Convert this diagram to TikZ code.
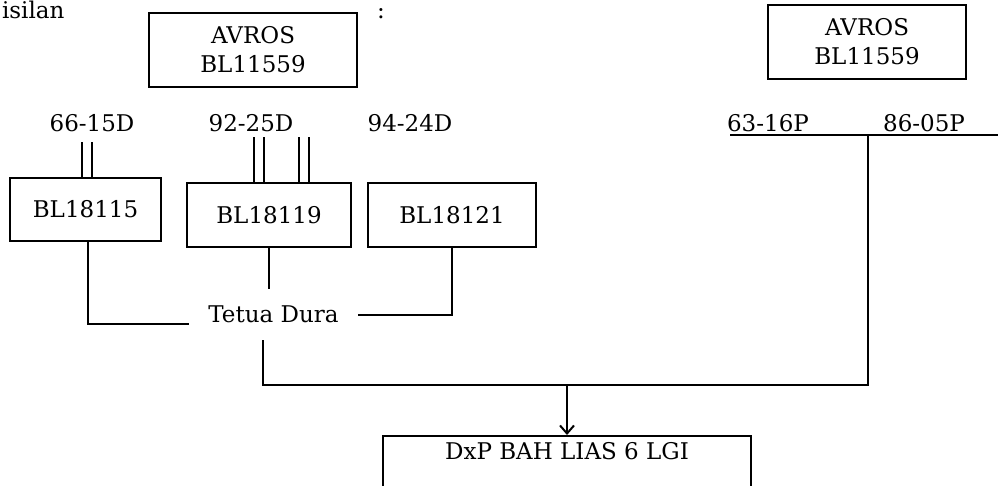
\documentclass[tikz,border=0pt]{standalone}
\usepackage{fontspec}
\setmainfont{DejaVu Serif}
\usetikzlibrary{arrows.meta}
\begin{document}
\begin{tikzpicture}[x=1pt, y=-1pt, line width=2pt, >={Straight Barb[length=8pt,width=14pt]},box node/.style={rectangle,draw,align=center,inner sep=0pt},label node/.style={inner sep=0pt}]%y grows downward
\useasboundingbox (0,0) rectangle (998,485);
\clip (0,0) rectangle (998,485);
\begin{scope}[every node/.style={font=\fontsize{23}{29}\selectfont}]
\node[label node, anchor=base west] (head) at (1,18) {isilan};
\node[label node, anchor=base] (colon) at (381,18) {:};
\node[box node, minimum width=208pt, minimum height=74pt] (avrosL) at (253,50) {AVROS\\BL11559};
\node[box node, minimum width=198pt, minimum height=74pt] (avrosR) at (867,42) {AVROS\\BL11559};
\node[label node] (d6615) at (92,123) {66-15D};
\node[label node] (d9225) at (251,123) {92-25D};
\node[label node] (d9424) at (410,123) {94-24D};
\node[label node] (p6316) at (768,123) {63-16P};
\node[label node] (p8605) at (924,123) {86-05P};
\node[box node, minimum width=151pt, minimum height=63pt] (b115) at (85.5,209.5) {BL18115};
\node[box node, minimum width=164pt, minimum height=64pt] (b119) at (269,215) {BL18119};
\node[box node, minimum width=168pt, minimum height=64pt] (b121) at (452,215) {BL18121};
\node[label node, inner xsep=18pt, inner ysep=16pt] (tetua) at (273.5,314.6) {Tetua Dura};
\node[box node, anchor=north, minimum width=368pt, inner ysep=6pt, text depth=34pt] (dxp) at (567,435) {DxP BAH LIAS 6 LGI};
%\node[label node] () at (,) {};
\end{scope}
\begin{scope}
\coordinate (t115) at (87,142);
\coordinate (t119a) at (259,137);
\coordinate (t119b) at (303.5,137);
\coordinate (pl) at (730,135);
\coordinate (pm) at (868,135);
\coordinate (pr) at (1000,135);
\coordinate (j) at (567,385);
\foreach \s in {-5,5} {
\draw ([xshift=\s pt]t115) -- ([xshift=\s pt]t115 |- b115.north);
\draw ([xshift=\s pt]t119a) -- ([xshift=\s pt]t119a |- b119.north);
\draw ([xshift=\s pt]t119b) -- ([xshift=\s pt]t119b |- b119.north);
}
\draw ([xshift=2.5pt]b115.south) |- ([yshift=-9pt]tetua.west);
\draw (b119.south) -- (b119.south |- tetua.north);
\draw (b121.south) |- (tetua.east);
\draw (pl) -- (pr);
\draw ([xshift=-10.5pt]tetua.south) |- (j) -| (pm);
\draw[->] (j) -- (j |- dxp.north);
\end{scope}
\end{tikzpicture}
\end{document}
